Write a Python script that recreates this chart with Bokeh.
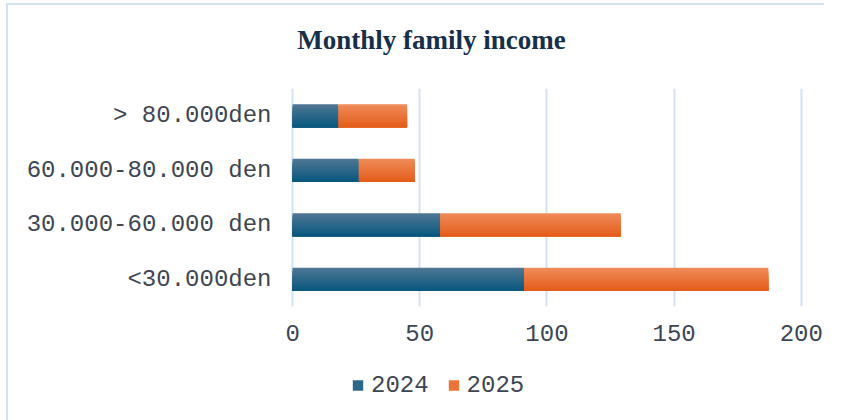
from bokeh.plotting import figure
from bokeh.layouts import column, row
from bokeh.models import Range1d, FixedTicker, Label, Legend, LegendItem, Spacer
from bokeh.transform import dodge
from bokeh.embed import file_html
from bokeh.resources import INLINE

chart_title = "Monthly family income"
categories = ["<30.000den", "30.000-60.000 den", "60.000-80.000 den", "> 80.000den"]
values_2024 = [91, 58, 26, 18]
values_2025 = [96, 71, 22, 27]
series = ["2024", "2025"]
x_ticks = [0, 50, 100, 150, 200]

totals = [a + b for a, b in zip(values_2024, values_2025)]

W = 818
BORDER = "2px solid #D3E2F3"

def lerp(c1, c2, t):
    a = [int(c1[i:i + 2], 16) for i in (1, 3, 5)]
    b = [int(c2[i:i + 2], 16) for i in (1, 3, 5)]
    return "#%02x%02x%02x" % tuple(round(a[k] + (b[k] - a[k]) * t) for k in range(3))

BLUE_TOP, BLUE_BOT = "#4d7692", "#0a5880"
ORANGE_TOP, ORANGE_BOT = "#ef8a58", "#e45e1b"

def blank(fig):
    fig.axis.visible = False
    fig.grid.visible = False
    fig.outline_line_color = None
    fig.border_fill_color = "white"
    fig.background_fill_color = "white"

# ---- title strip (its frame is aligned with the chart frame by the column layout) ----
t = figure(width=W, height=70, x_range=Range1d(0, 1), y_range=Range1d(0, 1),
           output_backend="svg", toolbar_location=None,
           min_border_left=0, min_border_right=0, min_border_top=0, min_border_bottom=0)
t.styles = {"border-left": BORDER, "border-top": BORDER}
blank(t)
t.add_layout(Label(x=144, y=36, x_units="screen", y_units="screen", text=chart_title,
                   text_font="Liberation Serif", text_font_style="bold", text_font_size="27px",
                   text_color="#172f4a", text_align="center", text_baseline="middle"))

# ---- main chart ----
p = figure(width=W, height=277, y_range=categories, x_range=Range1d(-2, 204),
           output_backend="svg", toolbar_location=None,
           min_border_left=279, min_border_right=15, min_border_top=15, min_border_bottom=44)
p.styles = {"border-left": BORDER}
p.outline_line_color = None
p.background_fill_color = "white"
p.border_fill_color = "white"

# gradient-like bars: overlapping layers, each covering from a lower top edge to the bar bottom
N = 14
BH = 0.42
src = dict(cat=categories, v24=values_2024, tot=totals, zero=[0] * len(categories))
for i in range(N):
    f = i / (N - 1)
    h = BH * (N - i) / N
    off = -BH / 2 + h / 2
    p.hbar(y=dodge("cat", off, range=p.y_range), left="zero", right="v24", height=h,
           fill_color=lerp(BLUE_TOP, BLUE_BOT, f), line_color=None, source=src)
    p.hbar(y=dodge("cat", off, range=p.y_range), left="v24", right="tot", height=h,
           fill_color=lerp(ORANGE_TOP, ORANGE_BOT, f), line_color=None, source=src)

p.xaxis.ticker = FixedTicker(ticks=x_ticks)
for ax in (p.xaxis[0], p.yaxis[0]):
    ax.axis_line_color = None
    ax.major_tick_line_color = None
    ax.minor_tick_line_color = None
    ax.major_label_text_font = "Liberation Mono"
    ax.major_label_text_font_size = "24px"
    ax.major_label_text_color = "#3d4652"
p.xaxis.major_label_standoff = 12
p.yaxis.major_label_standoff = 10

p.xgrid.grid_line_color = "#d2e1f3"
p.xgrid.grid_line_width = 2
p.ygrid.grid_line_color = None

# ---- legend strip ----
q = figure(width=W, height=70, x_range=Range1d(0, 1), y_range=Range1d(0, 1),
           output_backend="svg", toolbar_location=None,
           min_border_left=0, min_border_right=0, min_border_top=0, min_border_bottom=0)
q.styles = {"border-left": BORDER}
blank(q)
# legend proxies (kept outside the visible range)
r24 = q.hbar(y=[-5], left=[0], right=[1], height=0.5,
             fill_color=lerp(BLUE_TOP, BLUE_BOT, 0.5), line_color=None)
r25 = q.hbar(y=[-5], left=[0], right=[1], height=0.5,
             fill_color=lerp(ORANGE_TOP, ORANGE_BOT, 0.5), line_color=None)
legend = Legend(items=[LegendItem(label=series[0], renderers=[r24]),
                       LegendItem(label=series[1], renderers=[r25])],
                orientation="horizontal", location="left",
                glyph_width=13, glyph_height=13, label_standoff=7, spacing=18,
                label_text_font="Liberation Mono", label_text_font_size="24px",
                label_text_color="#3d4652", padding=0, margin=64,
                border_line_color=None, background_fill_alpha=0)
q.add_layout(legend)

layout = row(Spacer(width=6), column(Spacer(height=3), t, p, q, spacing=0), spacing=0)
open("out.html", "w").write(file_html(layout, INLINE))
